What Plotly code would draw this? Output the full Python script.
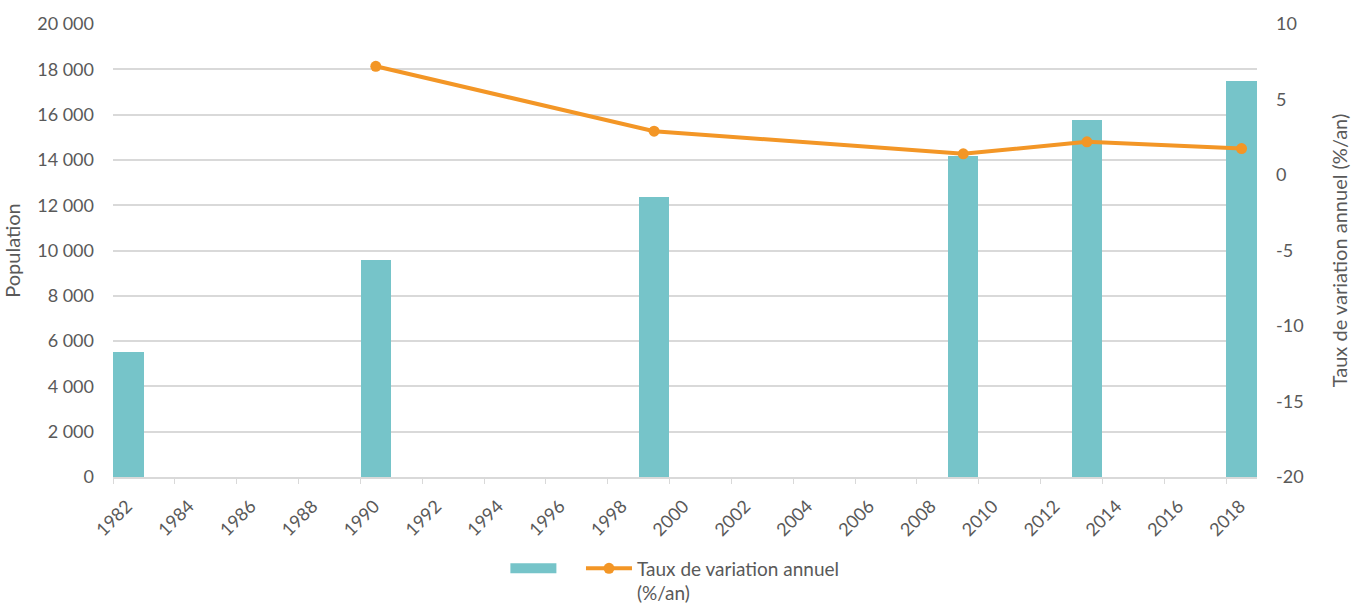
import plotly.graph_objects as go

years = [1982, 1990, 1999, 2009, 2013, 2018]
population = [5530, 9580, 12360, 14170, 15750, 17470]
rate_years = [1990, 1999, 2009, 2013, 2018]
rate = [7.2, 2.9, 1.4, 2.2, 1.75]
tick_years = list(range(1982, 2019, 2))
rate_ticks = [-20, -15, -10, -5, 0, 5, 10]
rate_tick_labels = ["-20", "-15", "-10", "-5", "0", "5", "10"]

FONT = "Lato"
TXT = "#595959"
GRID = "#d9d9d9"
TEAL = "#76C4C9"
ORANGE = "#F39626"

fig = go.Figure()
fig.add_trace(go.Bar(
    x=[y + 0.5 for y in years], y=population, width=0.98,
    name="Population", marker=dict(color=TEAL, line=dict(width=0)),
    yaxis="y", showlegend=False, legendgroup="pop",
))
# legend swatch for the bars (wide rectangle, as in the reference; its label is blank)
fig.add_trace(go.Scatter(
    x=[None], y=[None], mode="lines", name="\u00a0\u00a0\u00a0", legendgroup="pop",
    line=dict(color=TEAL, width=12), showlegend=True, hoverinfo="skip",
))
fig.add_trace(go.Scatter(
    x=[y + 0.5 for y in rate_years], y=rate, mode="lines+markers",
    name="Taux de variation annuel<br>(%/an)",
    line=dict(color=ORANGE, width=4), marker=dict(size=11, color=ORANGE),
    yaxis="y2",
))

fig.update_layout(
    width=1355, height=604,
    margin=dict(l=113, r=98, t=24, b=127, autoexpand=False),
    plot_bgcolor="white", paper_bgcolor="white",
    separators=", ",
    font=dict(family=FONT, size=18, color=TXT),
    bargap=0,
    xaxis=dict(
        range=[1982, 2019], tickvals=tick_years, ticktext=[str(t) for t in tick_years],
        tickangle=-45, showgrid=False, showline=True, linecolor=GRID, linewidth=1.5,
        ticks="outside", ticklen=5, tickcolor=GRID, zeroline=False,
        tickfont=dict(size=18, color=TXT), automargin=False,
        ticklabelstandoff=5, ticklabelshift=14,
    ),
    yaxis=dict(
        range=[0, 20000], dtick=2000, tickformat=",d", showgrid=True, gridcolor=GRID,
        gridwidth=1.5, zeroline=False, ticks="", ticklabelstandoff=18, automargin=False,
        tickfont=dict(size=18, color=TXT),
        title=dict(text="Population", font=dict(size=20, color=TXT), standoff=14),
    ),
    yaxis2=dict(
        range=[-20, 10], tickvals=rate_ticks, ticktext=rate_tick_labels,
        overlaying="y", side="right", showgrid=False,
        zeroline=False, ticks="", ticklabelstandoff=18, automargin=False,
        tickfont=dict(size=18, color=TXT),
        title=dict(text="Taux de variation annuel (%/an)", font=dict(size=20, color=TXT), standoff=30),
    ),
    legend=dict(
        orientation="h", x=0.343, xanchor="left", y=-0.16, yanchor="top",
        font=dict(size=19, color=TXT), itemwidth=46, tracegroupgap=0, valign="top",
    ),
)

fig.write_html("out.html")
